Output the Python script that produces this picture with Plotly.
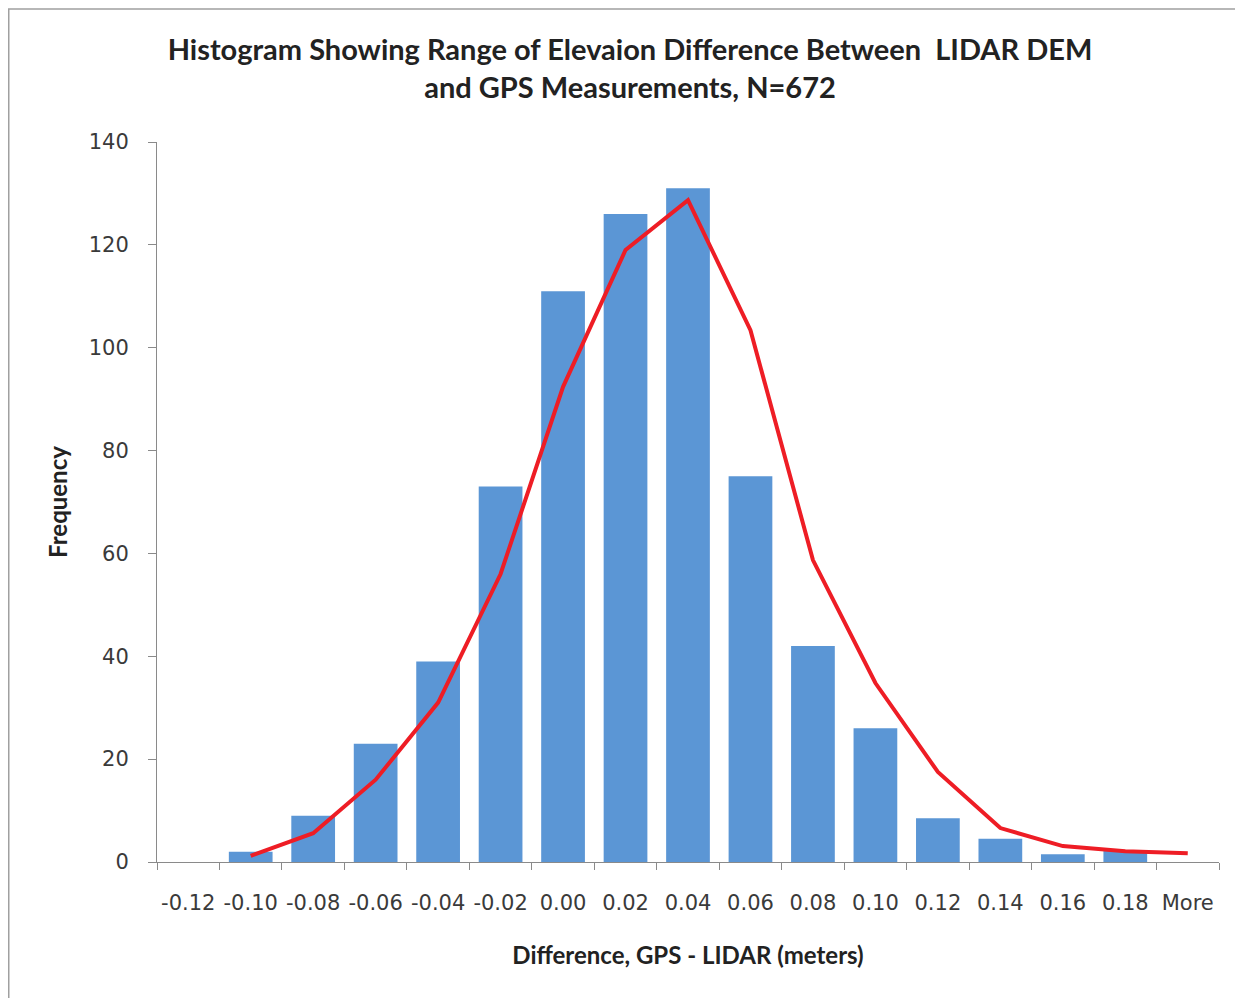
import plotly.graph_objects as go

categories = ["-0.12", "-0.10", "-0.08", "-0.06", "-0.04", "-0.02", "0.00", "0.02",
              "0.04", "0.06", "0.08", "0.10", "0.12", "0.14", "0.16", "0.18", "More"]
frequency = [0, 2, 9, 23, 39, 73, 111, 126, 131, 75, 42, 26, 8.5, 4.5, 1.5, 2.2, 0]
curve_cats = categories[1:]
curve_vals = [1.2, 5.6, 16, 31, 56, 92.4, 119, 128.7, 103.4, 58.7, 34.8, 17.5, 6.6, 3.1, 2.1, 1.7]
y_ticks = [0, 20, 40, 60, 80, 100, 120, 140]

# the page body has an 8px margin, so the figure is 8px smaller than the window
W, H = 1235, 990
L, R, T, B = 149, 24, 134, 136
pw, ph = W - L - R, H - T - B

fig = go.Figure()
fig.add_trace(go.Bar(x=categories, y=frequency, marker=dict(color="#5b96d5", line=dict(width=0)),
                     width=0.7, showlegend=False))
fig.add_trace(go.Scatter(x=curve_cats, y=curve_vals, mode="lines",
                         line=dict(color="#ee1d25", width=4), showlegend=False))

axis_col = "#8a8a8a"
fig.update_layout(
    width=W, height=H,
    margin=dict(l=L, r=R, t=T, b=B),
    paper_bgcolor="white", plot_bgcolor="white",
    font=dict(family="Lato", color="#222222"),
    xaxis=dict(
        type="category", categoryorder="array", categoryarray=categories,
        range=[-0.5, len(categories) - 0.5],
        showline=True, linecolor=axis_col, linewidth=1,
        ticks="outside", ticklen=7, tickcolor=axis_col, tickson="boundaries",
        showgrid=False, zeroline=False, tickangle=0,
        tickfont=dict(family="DejaVu Sans", size=21, color="#3a3a3a"),
        ticklabelstandoff=22,
        title=dict(text="<b>Difference, GPS - LIDAR (meters)</b>",
                   font=dict(family="Lato", size=24, color="#222222"), standoff=32),
    ),
    yaxis=dict(
        range=[0, 140], tickvals=y_ticks,
        showline=True, linecolor=axis_col, linewidth=1,
        ticks="outside", ticklen=8, tickcolor=axis_col,
        showgrid=False, zeroline=False,
        tickfont=dict(family="DejaVu Sans", size=21, color="#3a3a3a"),
        ticklabelstandoff=15,
        title=dict(text="<b>Frequency</b>",
                   font=dict(family="Lato", size=24, color="#222222"), standoff=14),
    ),
    title=dict(text="<b>Histogram Showing Range of Elevaion Difference Between  LIDAR DEM<br>and GPS Measurements, N=672</b>",
               x=622 / W, xanchor="center",
               y=1 - 52 / H, yanchor="top",
               font=dict(family="Lato", size=29, color="#222222")),
    shapes=[dict(type="rect", xref="paper", yref="paper",
                 x0=(0.75 - L) / pw, x1=(1300 - L) / pw,
                 y0=(T + ph - 1100) / ph, y1=(T + ph - 1) / ph,
                 line=dict(color="#a0a0a0", width=1.5), layer="below")],
)

fig.write_html("out.html")
